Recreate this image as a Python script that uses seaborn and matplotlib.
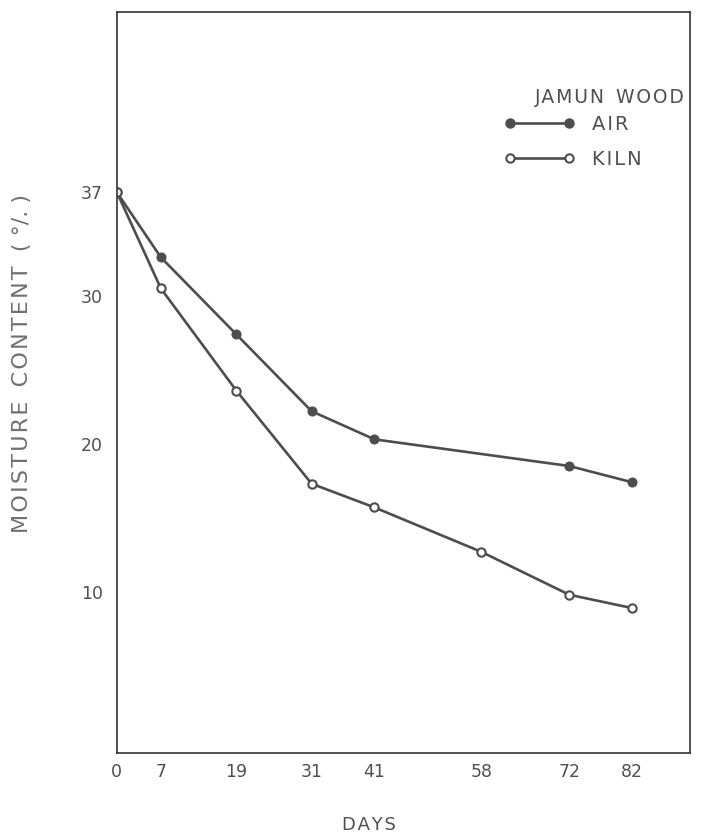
import matplotlib
matplotlib.use('Agg')
import matplotlib.pyplot as plt
import seaborn as sns
import pandas as pd
from matplotlib.lines import Line2D

# values
days_air = [0, 7, 19, 31, 41, 72, 82]
moisture_air = [37.0, 32.6, 27.4, 22.2, 20.3, 18.5, 17.4]
days_kiln = [0, 7, 19, 31, 41, 58, 72, 82]
moisture_kiln = [37.0, 30.5, 23.6, 17.3, 15.7, 12.7, 9.8, 8.9]

x_ticks = [0, 7, 19, 31, 41, 58, 72, 82]
x_tick_labels = ['0', '7', '19', '31', '41', '58', '72', '82']
y_ticks = [10, 20, 30, 37]

air = pd.DataFrame({'Days': days_air, 'Moisture': moisture_air})
kiln = pd.DataFrame({'Days': days_kiln, 'Moisture': moisture_kiln})

sns.set_style('white')
plt.rcParams['font.family'] = ['DejaVu Sans']

ink = '#4d4d4d'
text_col = '#505050'


def spaced(s):
    # the scan uses wide letter spacing, mimic it with hair spaces
    return '\u200a'.join(s)


fig = plt.figure(figsize=(7.04, 8.34), dpi=100)
ax = fig.add_axes([0.166, 0.097, 0.814, 0.889])

sns.lineplot(x='Days', y='Moisture', data=air, ax=ax, color=ink, linewidth=1.9,
             marker='o', markersize=6.5, markerfacecolor=ink, markeredgecolor=ink)
sns.lineplot(x='Days', y='Moisture', data=kiln, ax=ax, color=ink, linewidth=1.9,
             marker='o', markersize=6, markerfacecolor='white', markeredgecolor=ink,
             markeredgewidth=1.5)

ax.set_xlim(0, 91.2)
ax.set_ylim(-0.9, 49.2)
ax.set_xticks(x_ticks)
ax.set_xticklabels(x_tick_labels)
ax.set_yticks(y_ticks)
ax.tick_params(axis='x', direction='in', length=10, width=1.1, colors='#333333',
               labelcolor=text_col, labelsize=12.5, pad=7)
ax.tick_params(axis='y', direction='in', length=6, width=1.1, colors='#333333',
               labelcolor=text_col, labelsize=12.5, pad=10)

for s in ax.spines.values():
    s.set_color('#333333')
    s.set_linewidth(1.2)

ax.set_xlabel(spaced('DAYS'), fontsize=13, color=text_col)
ax.xaxis.set_label_coords(0.44, -0.085)
ax.set_ylabel(spaced('MOISTURE') + '  ' + spaced('CONTENT') + '  ( °/. )',
              fontsize=16, color='#707070')
ax.yaxis.set_label_coords(-0.148, 0.525)

ax.text(0.86, 0.884, spaced('JAMUN') + '  ' + spaced('WOOD'), transform=ax.transAxes,
        ha='center', va='center', fontsize=13.5, color=text_col)

handles = [
    Line2D([0], [0], color=ink, linewidth=1.9, marker='o', markersize=6.5,
           markerfacecolor=ink, markeredgecolor=ink),
    Line2D([0], [0], color=ink, linewidth=1.9, marker='o', markersize=6,
           markerfacecolor='white', markeredgecolor=ink, markeredgewidth=1.5),
]
leg = ax.legend(handles, [spaced('AIR'), spaced('KILN')], numpoints=2,
                frameon=False, fontsize=14,
                loc='upper left', bbox_to_anchor=(0.646, 0.884),
                handlelength=3.6, handletextpad=0.9, labelspacing=0.82)
for t in leg.get_texts():
    t.set_color(text_col)

plt.savefig('out.png', dpi=100)
